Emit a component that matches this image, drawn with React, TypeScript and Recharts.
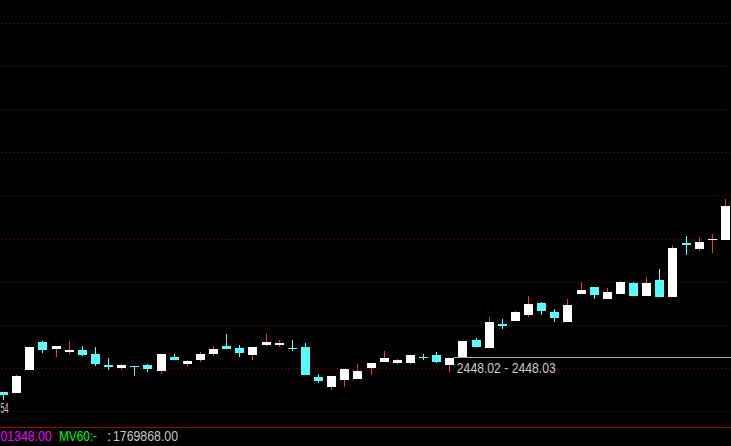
import React from 'react';
import { ComposedChart, Bar, XAxis, YAxis, ReferenceLine, CartesianGrid } from 'recharts';

// OHLC values (index points)
const opens = [2413, 2412, 2435, 2463, 2456, 2453, 2455, 2451, 2440, 2437, 2439, 2440, 2434, 2448, 2441, 2445, 2451, 2459, 2457, 2450, 2460, 2460, 2457, 2458, 2428, 2418, 2425, 2426, 2437, 2443, 2442, 2442, 2448, 2450, 2440, 2448, 2465, 2457, 2481, 2484, 2490, 2502, 2493, 2483, 2511, 2518, 2506, 2511, 2522, 2509, 2525, 2508, 2562, 2556, 2565, 2565];
const highs = [2413, 2430, 2458, 2464, 2459, 2464, 2459, 2458, 2447, 2441, 2439, 2441, 2451, 2451, 2445, 2453, 2459, 2471, 2460, 2458, 2471, 2465, 2465, 2462, 2431, 2429, 2436, 2441, 2442, 2454, 2446, 2450, 2451, 2453, 2447, 2464, 2467, 2488, 2486, 2494, 2509, 2503, 2496, 2506, 2523, 2518, 2517, 2524, 2523, 2528, 2536, 2560, 2569, 2568, 2571, 2606];
const lows = [2405, 2412, 2435, 2452, 2448, 2451, 2449, 2439, 2435, 2435, 2429, 2433, 2431, 2445, 2438, 2443, 2449, 2456, 2448, 2445, 2459, 2458, 2454, 2430, 2422, 2415, 2418, 2426, 2430, 2443, 2441, 2441, 2445, 2442, 2433, 2448, 2458, 2457, 2476, 2484, 2488, 2490, 2483, 2483, 2511, 2506, 2506, 2511, 2509, 2509, 2508, 2508, 2550, 2554, 2552, 2565];
const closes = [2410, 2429, 2458, 2455, 2459, 2455, 2450, 2441, 2438, 2440, 2438, 2436, 2451, 2445, 2444, 2451, 2456, 2456, 2452, 2458, 2463, 2462, 2456, 2430, 2424, 2429, 2436, 2434, 2442, 2447, 2445, 2450, 2447, 2443, 2447, 2464, 2458, 2483, 2479, 2493, 2501, 2494, 2487, 2500, 2515, 2510, 2513, 2523, 2509, 2522, 2508, 2557, 2560, 2563, 2566, 2599];

const gridLevels = [2781.5, 2738.5, 2695.5, 2652.5, 2609.5, 2565.5, 2522.5, 2479.5, 2436.5, 2393.5];
const yDomain = [2377, 2805];
const baseLevel = 2377.5;
const markLevel = 2447.5;
const markStartIndex = 34;
const markLabel = '2448.02 - 2448.03';
const edgePriceLabel = '54';
const footerValue = '01348.00';
const footerMaName = 'MV60:-';
const footerVolume = '1769868.00';

const data = opens.map((o, i) => ({
  day: String(i + 1),
  open: o,
  high: highs[i],
  low: lows[i],
  close: closes[i],
}));

const FONT = "'Liberation Sans', Arial, sans-serif";
const UP_BODY = '#ffffff';
const DOWN = '#54ffff';
const UP_WICK = '#ff3232';

const Candle = (props: any) => {
  const { x, y, width, height, payload } = props;
  const top = Math.min(y, y + height);
  const h = Math.abs(height);
  const { open, close, high, low } = payload;
  const k = h / (high - low);
  const py = (v: number) => top + (high - v) * k;
  const up = close >= open;
  const cx = x + width / 2;
  const left = Math.round(cx - 4.5);
  const wx = left + 4.5;
  const bTop = py(Math.max(open, close));
  const bBot = py(Math.min(open, close));
  const bh = Math.max(1, bBot - bTop);
  return (
    <g>
      <line x1={wx} x2={wx} y1={py(high)} y2={py(low)} stroke={up ? UP_WICK : DOWN} strokeWidth={1} />
      <rect x={left} y={bTop} width={9} height={bh} fill={up ? UP_BODY : DOWN} />
    </g>
  );
};

const MarkLine = (p: any) => {
  const x1 = p.x1 + ((p.x2 - p.x1) * (markStartIndex + 0.5)) / data.length + 4;
  return (
    <g>
      <line x1={x1} y1={p.y1} x2={p.x2} y2={p.y2} stroke="#a8a8a8" strokeWidth={1} />
      <text x={x1 + 3} y={p.y1 + 15.5} fill="#c8c8c8" fontSize={15} fontFamily={FONT} textLength={99} lengthAdjust="spacingAndGlyphs">
        {markLabel}
      </text>
    </g>
  );
};

export default function App() {
  return (
    <div style={{ position: 'fixed', left: 0, top: 0, width: 731, height: 446, overflow: 'hidden', background: '#000' }}>
      <div style={{ position: 'absolute', left: -3, top: 0 }}>
        <ComposedChart width={735} height={446} data={data} margin={{ top: 0, right: 0, bottom: 18, left: 0 }}>
          <XAxis dataKey="day" hide />
          <YAxis type="number" domain={yDomain} hide allowDataOverflow />
          <CartesianGrid
            vertical={false}
            horizontalValues={gridLevels}
            stroke="#960000"
            strokeDasharray="1 3"
            strokeWidth={1}
            fill="none"
          />
          <ReferenceLine y={baseLevel} stroke="#a80000" strokeWidth={1} />
          <ReferenceLine y={markLevel} shape={MarkLine} />
          <Bar
            dataKey={(d: any) => [d.low, d.high]}
            barSize={9}
            shape={Candle}
            isAnimationActive={false}
          />
        </ComposedChart>
      </div>
      <svg width={731} height={446} style={{ position: 'absolute', left: 0, top: 0, pointerEvents: 'none' }}>
        <text x={0.5} y={413} fill="#c8c8c8" fontSize={15} fontFamily={FONT} textLength={8} lengthAdjust="spacingAndGlyphs">{edgePriceLabel}</text>
        <text x={0.5} y={441} fill="#ff00ff" fontSize={15} fontFamily={FONT} textLength={51} lengthAdjust="spacingAndGlyphs">{footerValue}</text>
        <text x={59} y={441} fill="#00ff00" fontSize={15} fontFamily={FONT} textLength={38} lengthAdjust="spacingAndGlyphs">{footerMaName}</text>
        <text x={107} y={441} fill="#c8c8c8" fontSize={15} fontFamily={FONT}>:</text>
        <text x={113} y={441} fill="#c8c8c8" fontSize={15} fontFamily={FONT} textLength={65} lengthAdjust="spacingAndGlyphs">{footerVolume}</text>
      </svg>
    </div>
  );
}
